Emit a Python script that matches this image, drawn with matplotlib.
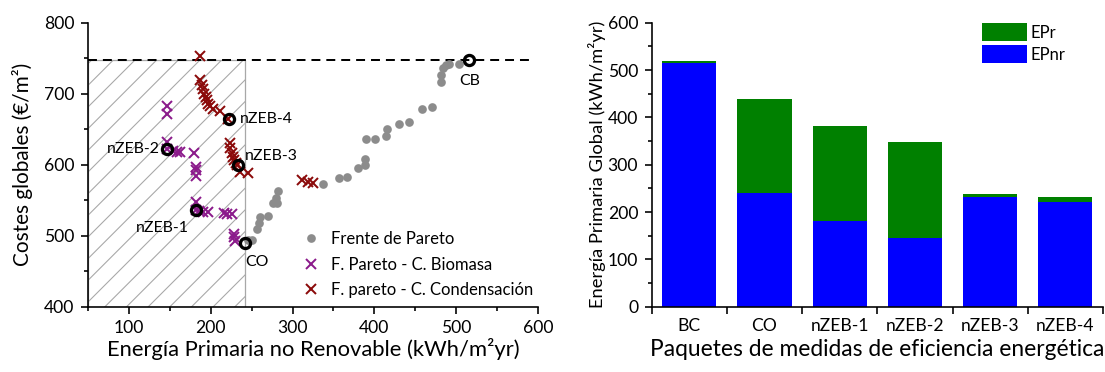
import matplotlib
matplotlib.use("Agg")
import matplotlib.pyplot as plt
from matplotlib.patches import Rectangle
from matplotlib.ticker import MultipleLocator, FixedLocator
import numpy as np

# ---------------- data ----------------
pareto_x = [246, 251, 257, 259, 260, 270, 276, 281, 280, 282, 337, 357, 367, 380, 389, 389,
            390, 401, 414, 415, 430, 442, 458, 470, 482, 482, 484, 488, 491, 503]
pareto_y = [494, 494, 509, 518, 526, 528, 546, 546, 553, 563, 573, 581, 582, 596, 599, 608,
            636, 636, 640, 650, 657, 660, 679, 681, 717, 727, 736, 740, 742, 742]

biomasa_x = [146, 146, 146, 146, 154, 159, 162, 179, 182, 182, 182, 182, 182, 186, 191, 197,
             216, 220, 226, 228, 229, 230]
biomasa_y = [682, 672, 632, 622, 620, 618, 618, 617, 597, 592, 584, 548, 536, 535, 534, 533,
             532, 531, 530, 503, 498, 493]

cond_x = [187, 187, 189, 190, 192, 194, 195, 197, 199, 203, 211, 221, 223, 224, 226, 227,
          228, 231, 232, 236, 246, 312, 319, 325]
cond_y = [753, 719, 712, 706, 700, 696, 691, 686, 682, 679, 676, 665, 630, 623, 616, 611,
          607, 602, 599, 590, 588, 579, 576, 574]

hl_labels = ["CB", "CO", "nZEB-1", "nZEB-2", "nZEB-3", "nZEB-4"]
hl_x = [516, 242, 182, 146, 233, 222]
hl_y = [747, 490, 536, 622, 599, 665]

ref_cost = 747          # dashed reference line (cost of base case)
zone_x = (50, 242)      # hatched zone limits in x
zone_y = (400, 747)     # hatched zone limits in y

packages = ["BC", "CO", "nZEB-1", "nZEB-2", "nZEB-3", "nZEB-4"]
epnr = [514, 241, 181, 146, 231, 222]
epr = [5, 197, 201, 201, 8, 10]

# ---------------- style ----------------
DPI = 130
plt.rcParams["font.family"] = ["Lato", "DejaVu Sans"]
plt.rcParams["hatch.linewidth"] = 0.6
plt.rcParams["axes.linewidth"] = 0.9

fig = plt.figure(figsize=(1105 / DPI, 372 / DPI), dpi=DPI)
W, H = 1105, 372

def ax_rect(x0, x1, ytop, ybot):
    return [x0 / W, 1 - ybot / H, (x1 - x0) / W, (ybot - ytop) / H]

tick_fs = 9.7
leg_fs = 9.2
ann_fs = 8.8
label_fs = 12.2

# ---------------- left: scatter ----------------
ax1 = fig.add_axes(ax_rect(88, 538, 22.7, 306.7))
ax1.set_xlim(50, 600)
ax1.set_ylim(400, 800)

ax1.add_patch(Rectangle((zone_x[0], zone_y[0]), zone_x[1] - zone_x[0], zone_y[1] - zone_y[0],
                        facecolor="none", edgecolor="#a8a8a8", hatch="//", linewidth=0.7,
                        zorder=1))
ax1.axhline(ref_cost, xmin=0, xmax=0.99, color="black", linestyle=(0, (4.5, 3)),
            linewidth=1.1, zorder=2)

ax1.plot(pareto_x, pareto_y, linestyle="none", marker="o", markersize=3.8,
         color="#8c8c8c", label="Frente de Pareto", zorder=3)
ax1.plot(biomasa_x, biomasa_y, linestyle="none", marker="x", markersize=6,
         markeredgewidth=1.1, color="#8b1a8b", label="F. Pareto - C. Biomasa", zorder=4)
ax1.plot(cond_x, cond_y, linestyle="none", marker="x", markersize=6,
         markeredgewidth=1.1, color="#8b0a0a", label="F. pareto - C. Condensación", zorder=4)
ax1.plot(hl_x, hl_y, linestyle="none", marker="o", markersize=5.6, markerfacecolor="none",
         markeredgecolor="black", markeredgewidth=1.8, zorder=5)

# label offsets (points) and alignment
offsets = {
    "CB": ((0, -11.5), "center", "center"),
    "CO": ((0, -7), "left", "top"),
    "nZEB-1": ((-4, -10), "right", "center"),
    "nZEB-2": ((-4, 0), "right", "center"),
    "nZEB-3": ((4, 5), "left", "center"),
    "nZEB-4": ((6, 0), "left", "center"),
}
for lab, x, y in zip(hl_labels, hl_x, hl_y):
    off, ha, va = offsets[lab]
    ax1.annotate(lab, (x, y), xytext=off, textcoords="offset points", ha=ha, va=va,
                 fontsize=ann_fs, zorder=6)

ax1.xaxis.set_major_locator(MultipleLocator(100))
ax1.xaxis.set_minor_locator(MultipleLocator(50))
ax1.yaxis.set_major_locator(MultipleLocator(100))
ax1.yaxis.set_minor_locator(MultipleLocator(50))
ax1.tick_params(which="major", direction="out", length=4, width=0.9, labelsize=tick_fs)
ax1.tick_params(which="minor", direction="out", length=2.3, width=0.9)
ax1.spines["top"].set_visible(False)
ax1.spines["right"].set_visible(False)
ax1.set_xlabel("Energía Primaria no Renovable (kWh/m²yr)", fontsize=label_fs, labelpad=1)
ax1.set_ylabel("Costes globales (€/m²)", fontsize=11.5, labelpad=6)

ax1.legend(loc="upper left", bbox_to_anchor=((303 - 88) / 450, (306.7 - 231) / 284),
           frameon=False, fontsize=leg_fs, handlelength=1.0, handletextpad=0.7,
           labelspacing=0.58, borderpad=0, borderaxespad=0)

# ---------------- right: stacked bars ----------------
ax2 = fig.add_axes(ax_rect(651.7, 1103, 22.7, 306.7))
xpos = np.arange(len(packages))
ax2.bar(xpos, epnr, width=0.72, color="#0000ff", label="EPnr", zorder=2)
ax2.bar(xpos, epr, width=0.72, bottom=epnr, color="#008000", label="EPr", zorder=2)
ax2.set_xlim(-0.5, len(packages) - 0.5)
ax2.set_ylim(0, 600)
ax2.set_xticks(xpos)
ax2.set_xticklabels(packages)
ax2.xaxis.set_minor_locator(FixedLocator(np.arange(-0.5, len(packages), 1.0)))
ax2.yaxis.set_major_locator(MultipleLocator(100))
ax2.yaxis.set_minor_locator(MultipleLocator(50))
ax2.tick_params(axis="x", which="major", length=0, pad=6, labelsize=tick_fs)
ax2.tick_params(axis="x", which="minor", direction="out", length=4, width=0.9)
ax2.tick_params(axis="y", which="major", direction="out", length=4, width=0.9, labelsize=tick_fs)
ax2.tick_params(axis="y", which="minor", direction="out", length=2.3, width=0.9)
ax2.spines["top"].set_visible(False)
ax2.spines["right"].set_visible(False)
ax2.set_xlabel("Paquetes de medidas de eficiencia energética", fontsize=label_fs + 0.4,
               labelpad=3)
ax2.set_ylabel("Energía Primaria Global (kWh/m²yr)", fontsize=10.2, labelpad=1)

h, l = ax2.get_legend_handles_labels()
ax2.legend(h[::-1], l[::-1], loc="upper left",
           bbox_to_anchor=((981.7 - 651.7) / 451.3, (306.7 - 23) / 284),
           frameon=False, fontsize=leg_fs, handlelength=2.7, handleheight=1.3,
           handletextpad=0.25, labelspacing=0.25, borderpad=0, borderaxespad=0)

fig.savefig("out.png", dpi=DPI)
